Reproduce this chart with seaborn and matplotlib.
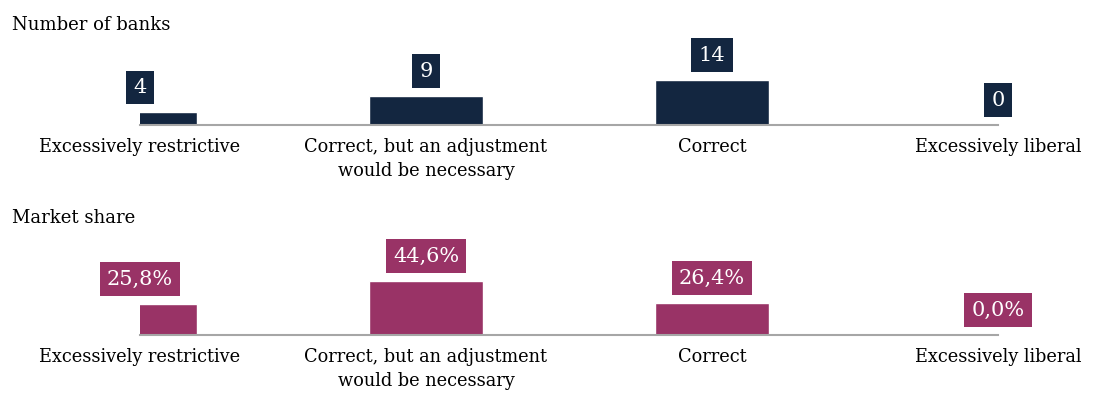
import matplotlib.pyplot as plt
import pandas as pd
import seaborn as sns

categories = ["Excessively restrictive",
              "Correct, but an adjustment\nwould be necessary",
              "Correct",
              "Excessively liberal"]
n_banks = [4, 9, 14, 0]
market_share = [25.8, 44.6, 26.4, 0.0]
bank_labels = ["4", "9", "14", "0"]
share_labels = ["25,8%", "44,6%", "26,4%", "0,0%"]

navy = "#132640"
maroon = "#993366"

sns.set_theme(style="white")
plt.rcParams["font.family"] = ["DejaVu Serif"]

fig = plt.figure(figsize=(10.93, 3.97), dpi=100)

# axes placed so the baselines sit where they do in the original
left = 140 / 1093
width = (998 - 140) / 1093
ax1 = fig.add_axes([left, 1 - 125 / 397, width, 85 / 397])
ax2 = fig.add_axes([left, 1 - 335 / 397, width, 85 / 397])

panels = [
    (ax1, n_banks, bank_labels, navy, 14 * 85 / 45, "Number of banks", 25),
    (ax2, market_share, share_labels, maroon, 44.6 * 85 / 54, "Market share", 218),
]

for ax, vals, labs, col, ytop, title, ty in panels:
    df = pd.DataFrame({"cat": categories, "val": vals})
    sns.barplot(data=df, x="cat", y="val", color=col, width=0.4,
                saturation=1, ax=ax)
    ax.set_xlim(0, 3)
    ax.set_ylim(0, ytop)
    ax.set_xlabel("")
    ax.set_ylabel("")
    ax.set_yticks([])
    ax.tick_params(axis="x", length=0, pad=9, labelsize=12.8, colors="black")
    for t in ax.get_xticklabels():
        t.set_linespacing(1.45)
    for s in ["top", "left", "right"]:
        ax.spines[s].set_visible(False)
    ax.spines["bottom"].set_color("#a6a6a6")
    ax.spines["bottom"].set_linewidth(1.5)
    ax.patch.set_alpha(0)
    span = ytop
    for i, (v, l) in enumerate(zip(vals, labs)):
        ax.text(i, v + span * 0.18, l, ha="center", va="bottom",
                color="white", fontsize=15, clip_on=False,
                bbox=dict(boxstyle="square,pad=0.35", fc=col, ec="none"))
    fig.text(12 / 1093, 1 - ty / 397, title, fontsize=13, ha="left",
             va="center", color="black")

fig.savefig("out.png", dpi=100)
